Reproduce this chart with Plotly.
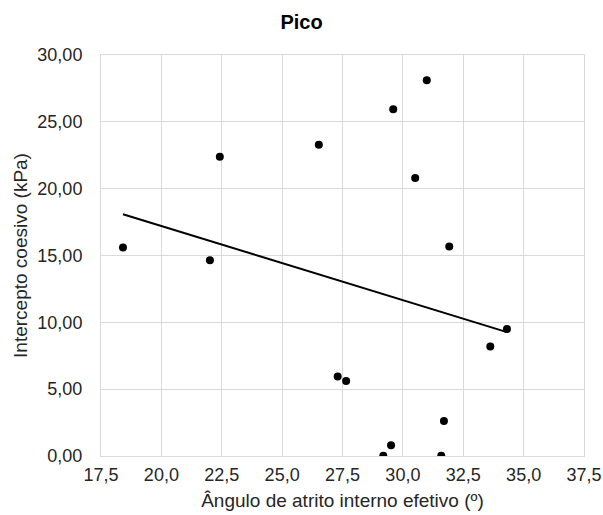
import numpy as np
import plotly.graph_objects as go

# Peak strength parameters: effective internal friction angle vs cohesion intercept
angulo = [18.41, 22.01, 22.42, 26.52, 27.30, 27.65, 29.19, 29.51,
          29.60, 30.51, 30.99, 31.59, 31.70, 31.92, 33.62, 34.31]
coesao = [15.60, 14.65, 22.38, 23.28, 5.94, 5.61, 0.02, 0.80,
          25.95, 20.79, 28.12, 0.02, 2.62, 15.67, 8.20, 9.50]

x_ticks = [17.5, 20.0, 22.5, 25.0, 27.5, 30.0, 32.5, 35.0, 37.5]
y_ticks = [0, 5, 10, 15, 20, 25, 30]

# Linear trend line (least squares) across the data range
a, b = np.polyfit(angulo, coesao, 1)
x_fit = np.array([min(angulo), max(angulo)])
y_fit = a * x_fit + b

grid = "#d9d9d9"
text_color = "#262626"
font = "Liberation Sans, Arial, sans-serif"

fig = go.Figure()
fig.add_trace(go.Scatter(
    x=angulo, y=coesao, mode="markers",
    marker=dict(color="black", size=8),
    showlegend=False, hoverinfo="x+y",
))
fig.add_trace(go.Scatter(
    x=x_fit, y=y_fit, mode="lines",
    line=dict(color="black", width=2),
    showlegend=False, hoverinfo="skip",
))

fig.update_layout(
    width=603, height=515,
    margin=dict(l=101, r=19, t=55, b=59, autoexpand=False),
    paper_bgcolor="white", plot_bgcolor="white",
    separators=",.",
    font=dict(family=font, size=18, color=text_color),
    title=dict(text="<b>Pico</b>", x=0.5, xanchor="center",
               xref="container", y=0.958, yanchor="middle",
               font=dict(family=font, size=20, color="black")),
    xaxis=dict(
        range=[17.5, 37.5], tickvals=x_ticks, tickformat=".1f",
        showgrid=True, gridcolor=grid, gridwidth=1,
        showline=True, linecolor=grid, linewidth=1, mirror=True,
        zeroline=False, ticks="", ticklen=0, automargin=False,
        ticklabelstandoff=2,
        tickfont=dict(size=18, color=text_color),
        title=dict(text="Ângulo de atrito interno efetivo (º)", standoff=10,
                   font=dict(size=19, color=text_color)),
    ),
    yaxis=dict(
        range=[0, 30], tickvals=y_ticks, tickformat=".2f",
        showgrid=True, gridcolor=grid, gridwidth=1,
        showline=True, linecolor=grid, linewidth=1, mirror=True,
        zeroline=False, ticks="", ticklen=0, automargin=False,
        ticklabelstandoff=14,
        tickfont=dict(size=18, color=text_color),
        title=dict(text="Intercepto coesivo (kPa)", standoff=4,
                   font=dict(size=19, color=text_color)),
    ),
)

fig.write_html("out.html")
